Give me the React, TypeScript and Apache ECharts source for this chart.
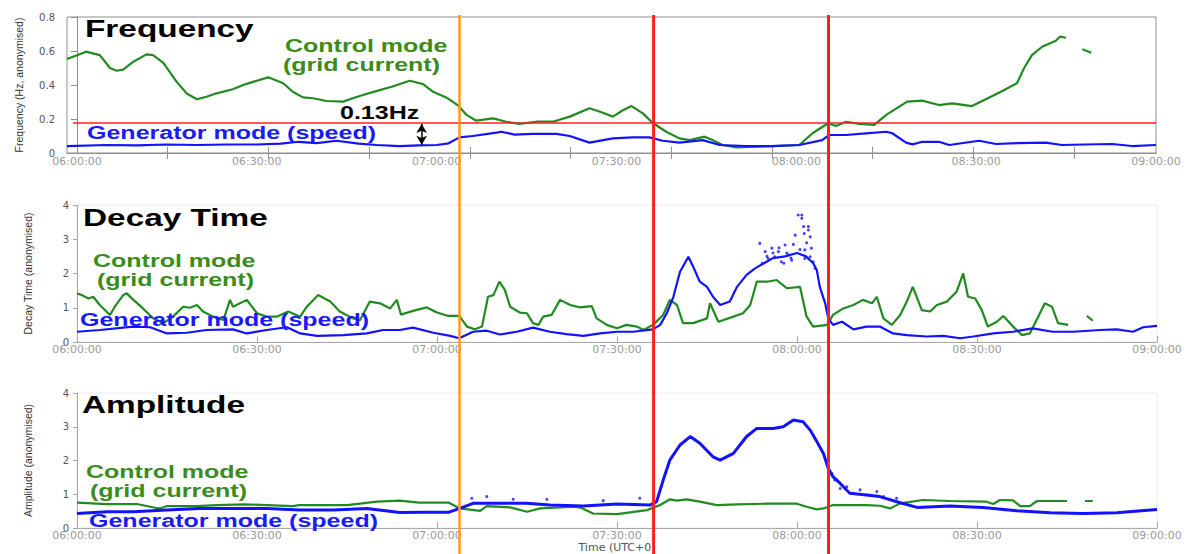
import React, { useEffect, useRef } from "react";
import * as echarts from "echarts";

// ---------- axes (time in minutes after 06:00:00) ----------
const xLabelMinutes = [0, 30, 60, 90, 120, 150, 180];
const freqTickMinutes = [15.13, 31.93, 48.73, 65.53, 82.33, 99.13, 115.93, 132.73, 149.53, 166.33];
const eventOrange = [63.75];
const eventRed = [96.1, 125.25];
const thresholdHz = 0.178;
const thresholdStart = -0.67;
const arrowTime = 57.5;
const arrowTop = 0.17;
const arrowBottom = 0.048;

// ---------- Frequency ----------
const freqCtrlT = [-1.67, 0, 1.5, 3.8, 5.5, 6.6, 7.7, 9.4, 11.6, 12.7, 14.4, 16.6, 18.3, 20, 21.6, 23.3, 26, 27.7, 30, 31.9, 34.4, 36, 37.7, 39.4, 41.6, 44.4, 46, 47.7, 50.5, 52.5, 55.5, 57.7, 59.4, 61.6, 63.5, 65, 66.6, 69.4, 71.6, 73.8, 76.6, 79.4, 82.2, 85.5, 87.5, 89.4, 91, 92.5, 94.4, 96, 98.3, 100.5, 102.2, 104.7, 106, 107.7, 110, 113.3, 116, 120.5, 122.7, 125.3, 126.6, 128.3, 130.5, 133, 135, 138.5, 141, 143.8, 146, 149.3, 151.6, 153.8, 156.8, 158, 159.3, 161, 163.3, 164, 165, 166, 167.7, 169.2];
const freqCtrlV = [0.553, 0.575, 0.596, 0.576, 0.5, 0.484, 0.49, 0.537, 0.58, 0.576, 0.53, 0.42, 0.35, 0.316, 0.331, 0.351, 0.375, 0.4, 0.425, 0.445, 0.41, 0.36, 0.327, 0.322, 0.306, 0.302, 0.322, 0.341, 0.37, 0.39, 0.425, 0.406, 0.36, 0.327, 0.282, 0.224, 0.19, 0.204, 0.184, 0.171, 0.184, 0.184, 0.214, 0.263, 0.24, 0.214, 0.25, 0.276, 0.233, 0.178, 0.125, 0.086, 0.076, 0.096, 0.076, 0.047, 0.033, 0.037, 0.041, 0.047, 0.116, 0.175, 0.159, 0.184, 0.171, 0.165, 0.224, 0.302, 0.308, 0.282, 0.292, 0.276, 0.316, 0.355, 0.41, 0.5, 0.576, 0.625, 0.66, 0.685, 0.678, null, 0.61, 0.59];
const freqGenT = [-1.67, 5, 10, 15, 20, 25, 30, 34, 37, 40, 43.3, 47, 50, 53.8, 57, 60, 62, 63.8, 66, 70, 70.8, 73, 76, 80, 82.2, 85.5, 89.4, 92.7, 95.5, 97.7, 100.5, 104.4, 107.2, 111.6, 116, 120.5, 124.3, 125.5, 128.3, 131.6, 135, 136, 138.3, 139.4, 141, 143.8, 145.5, 150.5, 153.3, 157, 161.6, 164.3, 168, 172.7, 176, 180];
const freqGenV = [0.041, 0.047, 0.045, 0.05, 0.047, 0.05, 0.05, 0.055, 0.066, 0.058, 0.072, 0.055, 0.047, 0.041, 0.045, 0.047, 0.057, 0.092, 0.1, 0.12, 0.125, 0.108, 0.112, 0.112, 0.1, 0.061, 0.086, 0.092, 0.092, 0.072, 0.061, 0.076, 0.047, 0.041, 0.041, 0.047, 0.076, 0.106, 0.106, 0.116, 0.125, 0.116, 0.061, 0.051, 0.066, 0.066, 0.047, 0.072, 0.053, 0.058, 0.061, 0.047, 0.05, 0.053, 0.041, 0.047];

// ---------- Decay time ----------
const decayCtrlT = [0, 0.8, 1.9, 2.7, 3.8, 5.5, 6.3, 7.7, 8.3, 9.4, 11, 12.7, 14.4, 16, 17.7, 18.8, 20, 21, 22.7, 24.4, 25.5, 26, 28.3, 30, 31.6, 33.3, 35.2, 37.2, 38.3, 40.2, 42.2, 43.8, 46, 47.2, 48.8, 50.5, 52.2, 53.3, 54, 56, 58.3, 60, 61.9, 63.7, 65, 66.3, 67.5, 68.5, 69.4, 70.4, 71.3, 72.2, 73.8, 75, 76, 76.9, 77.7, 79.1, 80.5, 82.2, 83.8, 85.8, 86.6, 88.3, 90, 91.6, 93.3, 94.4, 96, 97.7, 98.8, 100, 101, 102.7, 105, 105.5, 106.9, 109.4, 111, 112.2, 113.3, 115, 116.6, 118.3, 120.5, 121.6, 122.7, 125, 126, 127.7, 129.4, 131, 132.5, 133.3, 134.4, 135.8, 137.2, 138.3, 139.3, 140.8, 142.2, 143.3, 145, 146.6, 147.7, 148.5, 149.7, 150.8, 151.8, 153.3, 154.4, 156, 157.5, 158.8, 160.2, 161.3, 162.5, 163.5, 165.2, 166.5, 168.3, 169.3];
const decayCtrlV = [1.42, 1.37, 1.27, 1.32, 1.08, 0.79, 1.03, 1.37, 1.42, 1.23, 0.98, 0.69, 0.55, 0.74, 1.03, 1.0, 1.08, 0.89, 0.74, 0.64, 1.23, 1.03, 1.23, 0.84, 0.74, 0.74, 0.89, 0.74, 1.03, 1.37, 1.18, 0.89, 0.69, 0.64, 1.18, 1.13, 0.98, 1.23, 0.8, 0.91, 1.01, 0.86, 0.76, 0.76, 0.45, 0.37, 0.45, 1.32, 1.37, 1.76, 1.52, 1.03, 0.86, 0.84, 0.55, 0.5, 0.74, 0.79, 1.23, 1.08, 1.01, 1.05, 0.69, 0.5, 0.4, 0.5, 0.45, 0.35, 0.5, 0.79, 1.23, 1.08, 0.55, 0.55, 0.69, 1.13, 0.59, 0.74, 0.84, 1.08, 1.76, 1.76, 1.81, 1.57, 1.61, 0.74, 0.45, 0.5, 0.79, 0.98, 1.08, 1.23, 1.13, 1.32, 0.69, 0.5, 0.79, 1.18, 1.61, 0.93, 0.89, 1.08, 1.18, 1.47, 2.0, 1.32, 1.27, 0.93, 0.45, 0.59, 0.76, 0.45, 0.2, 0.25, 0.74, 1.13, 1.03, 0.55, 0.5, null, 0.76, 0.62];
const decayGenT = [0, 3.8, 9.4, 12.2, 15, 18.3, 21.6, 26, 28.3, 31.6, 35, 37.2, 40, 44.4, 48.3, 51, 53.8, 56, 59.4, 62.2, 63.7, 66, 68.3, 70.5, 73.3, 76, 78.8, 81.6, 84.4, 87.2, 90, 92.7, 96, 97.2, 98.3, 99.4, 100.5, 101.9, 102.7, 103.8, 105, 106, 107.2, 108.8, 110, 111.6, 113, 114.5, 116, 118, 120, 121.5, 122.7, 123.3, 123.8, 124.7, 125.2, 126, 127.5, 129.4, 131.6, 133.8, 136, 138.3, 141.6, 144.4, 147.2, 149.4, 152.7, 156, 159.3, 162.6, 166, 170.5, 173.3, 176, 177.7, 180];
const decayGenV = [0.3, 0.35, 0.45, 0.43, 0.25, 0.27, 0.35, 0.37, 0.25, 0.35, 0.43, 0.25, 0.18, 0.2, 0.25, 0.35, 0.35, 0.42, 0.27, 0.18, 0.11, 0.3, 0.33, 0.22, 0.3, 0.42, 0.3, 0.23, 0.18, 0.25, 0.3, 0.3, 0.37, 0.5, 0.84, 1.32, 2.05, 2.49, 2.2, 1.76, 1.61, 1.32, 1.08, 1.18, 1.61, 1.96, 2.15, 2.3, 2.45, 2.5, 2.6, 2.5, 2.3, 2.1, 1.61, 1.13, 0.69, 0.5, 0.59, 0.37, 0.45, 0.45, 0.25, 0.2, 0.16, 0.18, 0.11, 0.16, 0.25, 0.3, 0.4, 0.3, 0.3, 0.35, 0.37, 0.3, 0.43, 0.47];
const decayGenDotsT = [113.8, 114.7, 115.2, 115.8, 116.3, 116.9, 117.4, 118, 118.6, 119.1, 119.7, 120.2, 120.8, 121.1, 121.3, 121.9, 122.2, 123, 120.8, 121.2, 121.9, 122.2, 121.3, 122.4, 122.7, 114.2, 115, 116, 117, 118.3, 119.4, 120.5, 121.6, 117.8, 119];
const decayGenDotsV = [2.88, 2.64, 2.44, 2.74, 2.49, 2.64, 2.34, 2.83, 2.54, 2.39, 3.12, 3.71, 3.61, 3.37, 2.69, 3.27, 2.49, 2.15, 3.71, 3.17, 3.37, 3.07, 2.44, 2.74, 2.34, 2.3, 2.5, 2.6, 2.75, 2.6, 2.85, 2.7, 2.9, 2.3, 2.45];

// ---------- Amplitude ----------
const ampCtrlT = [0, 5, 10, 13, 13.8, 15, 20, 23.3, 28, 36, 37, 45, 50, 53.8, 57, 62, 63.8, 67.2, 68.3, 72.2, 75, 77.2, 82.7, 84, 86, 90, 95, 97.2, 98.8, 100, 101.6, 103.8, 106.6, 110, 115, 120, 121.6, 123.3, 124.4, 126, 131.6, 133.8, 135.5, 137.2, 141, 145.5, 151.6, 152.7, 153.8, 156, 157.2, 158.8, 160, 165, 166.5, 168, 169.3];
const ampCtrlV = [0.75, 0.71, 0.71, 0.6, 0.58, 0.65, 0.65, 0.68, 0.7, 0.65, 0.68, 0.68, 0.78, 0.81, 0.75, 0.75, 0.58, 0.51, 0.65, 0.61, 0.48, 0.58, 0.63, 0.6, 0.43, 0.41, 0.53, 0.68, 0.85, 0.81, 0.85, 0.78, 0.68, 0.7, 0.72, 0.72, 0.63, 0.55, 0.58, 0.68, 0.68, 0.66, 0.58, 0.73, 0.83, 0.8, 0.78, 0.71, 0.83, 0.82, 0.65, 0.65, 0.8, 0.8, null, 0.8, 0.8];
const ampGenT = [0, 5, 9.4, 15, 20.5, 26, 31.6, 37.2, 42.7, 48.3, 53.8, 58, 62, 63.8, 66, 70.5, 75, 78.8, 84.4, 90, 95.5, 96.6, 97.7, 98.8, 100.5, 102.2, 103.8, 106, 107.2, 109.4, 111.6, 113.3, 116, 117.7, 119.4, 121, 122.2, 123.3, 124.4, 125.2, 126, 127.2, 128.8, 131.6, 133.8, 137.2, 140, 145.5, 151, 156.6, 162.2, 167.7, 173.3, 180];
const ampGenV = [0.43, 0.48, 0.48, 0.53, 0.58, 0.58, 0.58, 0.53, 0.53, 0.58, 0.46, 0.47, 0.47, 0.58, 0.73, 0.73, 0.73, 0.68, 0.65, 0.71, 0.68, 0.78, 1.42, 2.01, 2.46, 2.71, 2.51, 2.11, 2.01, 2.21, 2.71, 2.95, 2.95, 3.0, 3.2, 3.15, 2.9, 2.56, 2.21, 1.77, 1.52, 1.32, 1.03, 0.98, 0.93, 0.75, 0.61, 0.65, 0.61, 0.51, 0.45, 0.43, 0.45, 0.55];
const ampGenDotsT = [125.8, 126.3, 127.2, 128.3, 129.4, 130.5, 131.9, 133.3, 134.4, 136.6, 65.8, 68.3, 72.7, 78.3, 87.7, 93.8];
const ampGenDotsV = [1.62, 1.42, 1.17, 1.22, 1.03, 1.13, 0.98, 1.08, 0.93, 0.88, 0.88, 0.93, 0.85, 0.85, 0.81, 0.88];

// ---------- styling ----------
const GREEN = "#218a21";
const BLUE = "#1212ff";
const GREEN_TEXT = "#3b8b1d";
const BLUE_TEXT = "#1a1aff";
const RED = "#ff1f1f";
const ORANGE = "#ff9a1c";
const FRAME = "#8f8f8f";
const AXIS = "#a8a8a8";
const LABEL_FONT = "DejaVu Sans";
const BOLD = 'bold 18px "Liberation Sans", Arial, sans-serif';
const TITLE = 'bold 24px "Liberation Sans", Arial, sans-serif';
const STRETCH = 1.39;

const pairs = (t: number[], v: (number | null)[]) =>
  t.map((x, i) => [x, v[i] === null ? "-" : v[i]]);

const fmtTime = (v: number) => {
  const m = Math.round(v);
  const h = 6 + Math.floor(m / 60);
  const mm = m % 60;
  return `${String(h).padStart(2, "0")}:${String(mm).padStart(2, "0")}:00`;
};

const xLabel = (margin: number) => ({
  color: "#9a9a9a",
  fontSize: 11,
  fontFamily: LABEL_FONT,
  margin,
  formatter: fmtTime,
});

const yLabel = (margin: number) => ({
  color: "#555",
  fontSize: 10,
  fontFamily: LABEL_FONT,
  margin,
});

const nameStyle = { color: "#333", fontSize: 10.5, fontFamily: "Liberation Sans" };

function lineSeries(name: string, t: number[], v: (number | null)[], color: string, xi: number, yi: number, width = 2, extra: any = {}) {
  return {
    type: "line",
    name,
    xAxisIndex: xi,
    yAxisIndex: yi,
    data: pairs(t, v),
    showSymbol: false,
    symbol: "none",
    connectNulls: false,
    lineStyle: { color, width },
    itemStyle: { color },
    silent: true,
    ...extra,
  };
}

function dotSeries(name: string, t: number[], v: number[], color: string, xi: number, yi: number) {
  return {
    type: "scatter",
    name,
    xAxisIndex: xi,
    yAxisIndex: yi,
    data: pairs(t, v),
    symbolSize: 3,
    itemStyle: { color },
    silent: true,
  };
}

function txt(text: string, x: number, y: number, font: string, fill: string) {
  return {
    type: "text",
    x,
    y,
    scaleX: STRETCH,
    z: 50,
    silent: true,
    style: { text, font, fill, textAlign: "left", textVerticalAlign: "middle" },
  };
}

const texts = [
  txt("Frequency", 85, 29, TITLE, "#000"),
  txt("Control mode", 285, 45.5, BOLD, GREEN_TEXT),
  txt("(grid current)", 283, 64.5, BOLD, GREEN_TEXT),
  txt("0.13Hz", 340, 113, BOLD, "#000"),
  txt("Generator mode (speed)", 87, 133, BOLD, BLUE_TEXT),
  txt("Decay Time", 83, 217.5, TITLE, "#000"),
  txt("Control mode", 93, 260.5, BOLD, GREEN_TEXT),
  txt("(grid current)", 97, 279.5, BOLD, GREEN_TEXT),
  txt("Generator mode (speed)", 80, 320, BOLD, BLUE_TEXT),
  txt("Amplitude", 82, 405, TITLE, "#000"),
  txt("Control mode", 86, 472, BOLD, GREEN_TEXT),
  txt("(grid current)", 90, 491, BOLD, GREEN_TEXT),
  txt("Generator mode (speed)", 89, 520.5, BOLD, BLUE_TEXT),
];

const option: any = {
  animation: false,
  backgroundColor: "#ffffff",
  grid: [
    { left: 67, top: 17, width: 1089, height: 136, show: true, borderColor: FRAME, borderWidth: 1, containLabel: false, outerBoundsMode: "none" },
    { left: 77, top: 205, width: 1080, height: 137, show: true, borderColor: "#ececec", borderWidth: 1, containLabel: false, outerBoundsMode: "none" },
    { left: 77, top: 393, width: 1080, height: 135, show: true, borderColor: "#ececec", borderWidth: 1, containLabel: false, outerBoundsMode: "none" },
  ],
  xAxis: [
    {
      type: "value", gridIndex: 0, min: -5 / 3, max: 180,
      axisLine: { show: true, lineStyle: { color: FRAME, width: 1 } },
      axisTick: { show: true, inside: true, length: 6, customValues: freqTickMinutes, lineStyle: { color: FRAME } },
      axisLabel: { ...xLabel(3), customValues: xLabelMinutes },
      splitLine: { show: false },
    },
    {
      type: "value", gridIndex: 0, position: "top", min: -5 / 3, max: 180,
      axisLine: { show: true, lineStyle: { color: FRAME, width: 1 } },
      axisTick: { show: true, inside: true, length: 6, customValues: freqTickMinutes, lineStyle: { color: FRAME } },
      axisLabel: { show: false },
      splitLine: { show: false },
    },
    {
      type: "value", gridIndex: 1, min: 0, max: 180, interval: 30,
      axisLine: { show: true, lineStyle: { color: AXIS, width: 1 } },
      axisTick: { show: true, inside: true, length: 6, lineStyle: { color: AXIS } },
      axisLabel: xLabel(2),
      splitLine: { show: false },
    },
    {
      type: "value", gridIndex: 2, min: 0, max: 180, interval: 30,
      name: "Time (UTC+0)", nameLocation: "middle", nameGap: 13,
      nameTextStyle: { color: "#555", fontSize: 11, fontFamily: LABEL_FONT },
      axisLine: { show: true, lineStyle: { color: AXIS, width: 1 } },
      axisTick: { show: true, inside: true, length: 6, lineStyle: { color: AXIS } },
      axisLabel: xLabel(2),
      splitLine: { show: false },
    },
  ],
  yAxis: [
    {
      type: "value", gridIndex: 0, min: 0, max: 0.8, interval: 0.2,
      name: "Frequency (Hz, anonymised)", nameLocation: "middle", nameGap: 43, nameTextStyle: nameStyle,
      axisLine: { show: true, lineStyle: { color: FRAME } },
      axisTick: { show: false },
      axisLabel: yLabel(12),
      splitLine: { show: false },
    },
    {
      type: "value", gridIndex: 0, position: "right", min: 0, max: 0.8, interval: 0.2,
      axisLine: { show: true, lineStyle: { color: FRAME } },
      axisTick: { show: true, inside: true, length: 6, lineStyle: { color: FRAME } },
      axisLabel: { show: false },
      splitLine: { show: false },
    },
    {
      type: "value", gridIndex: 1, min: 0, max: 4, interval: 1,
      name: "Decay Time (anonymised)", nameLocation: "middle", nameGap: 44, nameTextStyle: nameStyle,
      axisLine: { show: true, lineStyle: { color: AXIS } },
      axisTick: { show: true, inside: false, length: 4, lineStyle: { color: AXIS } },
      axisLabel: yLabel(8),
      splitLine: { show: false },
    },
    {
      type: "value", gridIndex: 2, min: 0, max: 4, interval: 1,
      name: "Amplitude (anonymised)", nameLocation: "middle", nameGap: 44, nameTextStyle: nameStyle,
      axisLine: { show: true, lineStyle: { color: AXIS } },
      axisTick: { show: true, inside: false, length: 4, lineStyle: { color: AXIS } },
      axisLabel: yLabel(8),
      splitLine: { show: false },
    },
  ],
  series: [
    lineSeries("Frequency control mode", freqCtrlT, freqCtrlV, GREEN, 0, 0, 2.2, {
      markLine: {
        silent: true,
        symbol: ["none", "none"],
        label: { show: false },
        animation: false,
        data: [
          [
            { coord: [thresholdStart, thresholdHz], lineStyle: { color: RED, width: 1.5, type: "solid" } },
            { coord: [180, thresholdHz] },
          ],
          [
            { coord: [arrowTime, arrowTop], symbol: "arrow", symbolSize: [8, 9], lineStyle: { color: "#000", width: 1.5, type: "solid" } },
            { coord: [arrowTime, arrowBottom], symbol: "arrow", symbolSize: [8, 9] },
          ],
        ],
      },
    }),
    lineSeries("Frequency generator mode", freqGenT, freqGenV, BLUE, 0, 0, 2.2),
    lineSeries("Decay control mode", decayCtrlT, decayCtrlV, GREEN, 2, 2, 2.2),
    lineSeries("Decay generator mode", decayGenT, decayGenV, BLUE, 2, 2, 2.2),
    dotSeries("Decay generator mode dots", decayGenDotsT, decayGenDotsV, BLUE, 2, 2),
    lineSeries("Amplitude control mode", ampCtrlT, ampCtrlV, GREEN, 3, 3, 2.2),
    lineSeries("Amplitude generator mode", ampGenT, ampGenV, BLUE, 3, 3, 3),
    dotSeries("Amplitude generator mode dots", ampGenDotsT, ampGenDotsV, BLUE, 3, 3),
  ],
  graphic: texts,
};

export default function App() {
  const ref = useRef<HTMLDivElement>(null);
  useEffect(() => {
    if (!ref.current) return;
    const chart = echarts.init(ref.current, null, { renderer: "svg" });
    chart.setOption(option);
    const px = (t: number) => chart.convertToPixel({ xAxisIndex: 3 }, t) as number;
    const vlines = [
      ...eventOrange.map((t) => ({ color: ORANGE, w: 2.5, x: px(t) })),
      ...eventRed.map((t) => ({ color: RED, w: 3, x: px(t) })),
    ].map((l) => ({
      type: "line",
      z: 100,
      silent: true,
      shape: { x1: l.x, y1: 15, x2: l.x, y2: 554 },
      style: { stroke: l.color, lineWidth: l.w },
    }));
    chart.setOption({ graphic: [...texts, ...vlines] });
    return () => chart.dispose();
  }, []);
  return (
    <div
      ref={ref}
      style={{ position: "fixed", left: 0, top: 0, width: 1186, height: 554, background: "#fff" }}
    />
  );
}
